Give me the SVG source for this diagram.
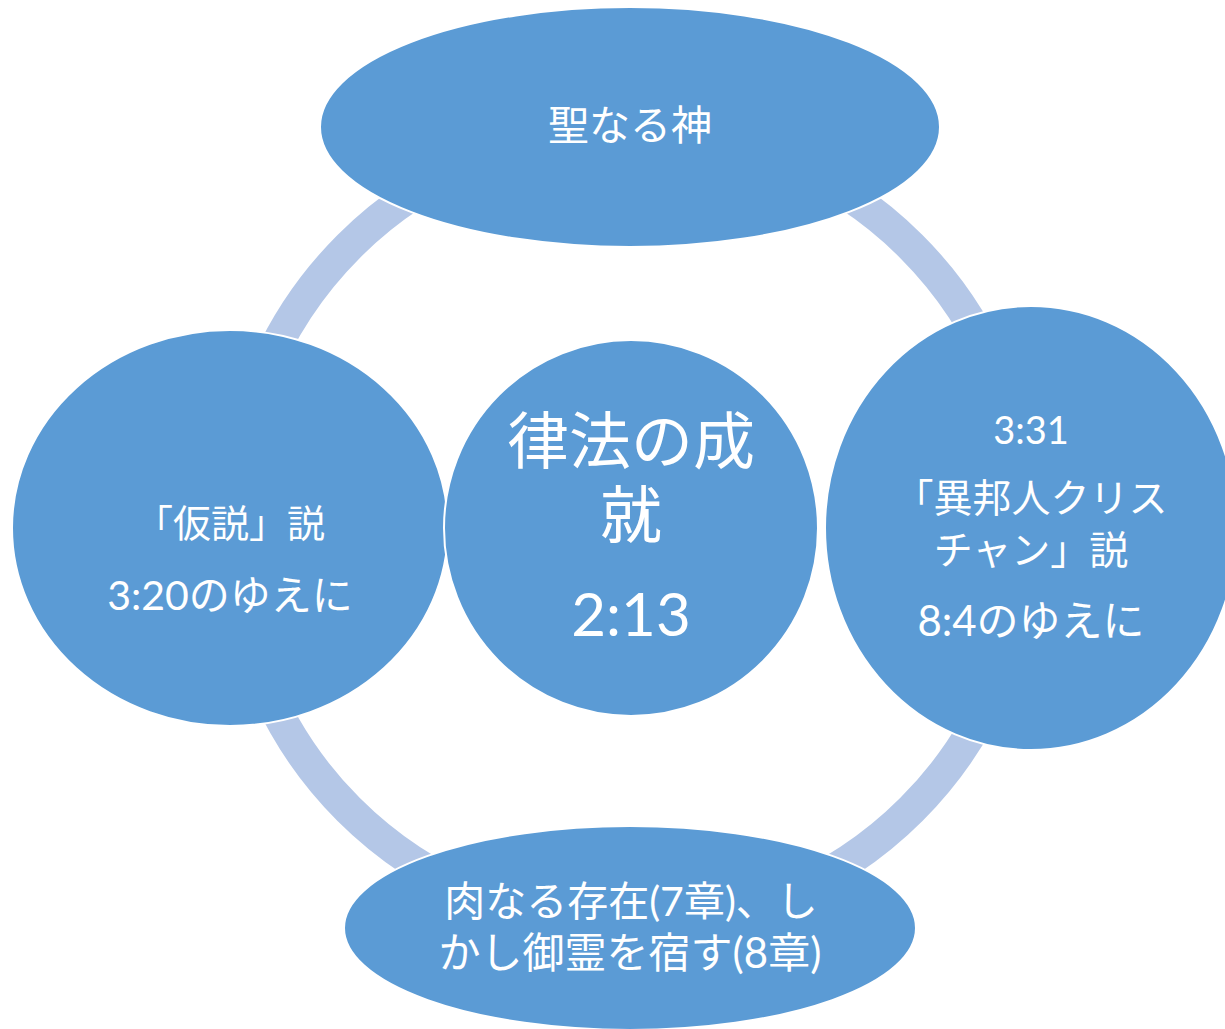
<svg xmlns="http://www.w3.org/2000/svg" width="1225" height="1029" viewBox="0 0 1225 1029">
<style>
.node{fill:#5B9BD5;stroke:#FFFFFF;stroke-width:2}
.ring{fill:none;stroke:#B4C7E7;stroke-width:32}
text{fill:#FFFFFF;font-family:"Lato","Noto Sans CJK JP",sans-serif;text-anchor:middle}
</style>
<rect width="1225" height="1029" fill="#FFFFFF"/>
<g id="connectors">
<circle class="ring" cx="630" cy="528" r="398"/>
</g>
<g id="node-top">
<ellipse class="node" cx="630" cy="127" rx="310" ry="120"/>
<text x="630" y="140" font-size="41">聖なる神</text>
</g>
<g id="node-left">
<ellipse class="node" cx="230" cy="528" rx="218" ry="198"/>
<text x="230" y="537" font-size="38">「仮説」説</text>
<text x="230" y="610" font-size="41">3:20のゆえに</text>
</g>
<g id="node-right">
<ellipse class="node" cx="1031" cy="528" rx="206" ry="222"/>
<text x="1031" y="444" font-size="38">3:31</text>
<text x="1031" y="512" font-size="39">「異邦人クリス</text>
<text x="1031" y="564" font-size="39">チャン」説</text>
<text x="1031" y="636" font-size="42">8:4のゆえに</text>
</g>
<g id="node-bottom">
<ellipse class="node" cx="630" cy="928" rx="286" ry="102"/>
<text x="631" y="916" font-size="41">肉なる存在(7章)、し</text>
<text x="630" y="968" font-size="42">かし御霊を宿す(8章)</text>
</g>
<g id="node-center">
<ellipse class="node" cx="631" cy="528" rx="187" ry="188"/>
<text x="631" y="464" font-size="62">律法の成</text>
<text x="631" y="538" font-size="62">就</text>
<text x="631" y="636" font-size="60">2:13</text>
</g>
</svg>
